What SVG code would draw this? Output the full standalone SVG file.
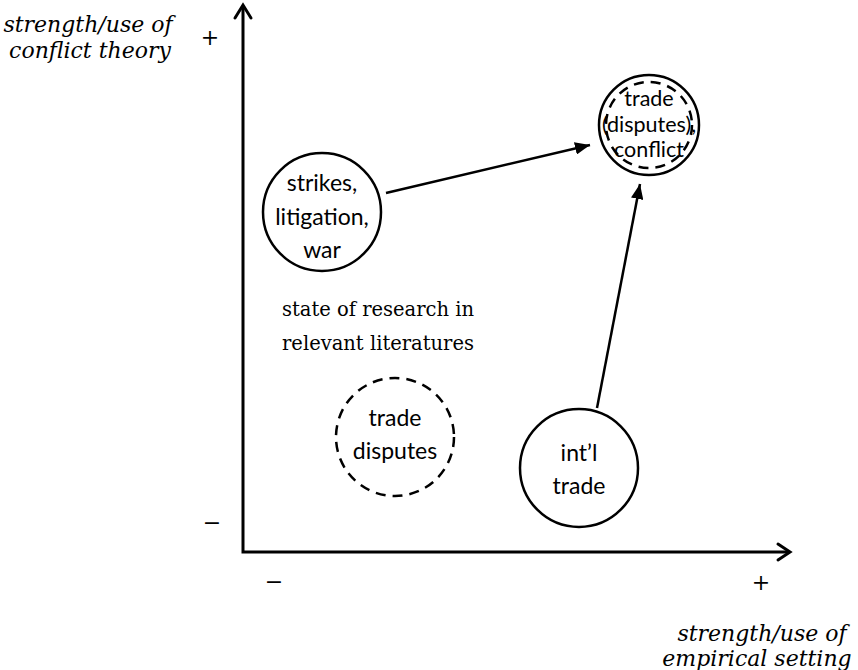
<svg xmlns="http://www.w3.org/2000/svg" width="858" height="670" viewBox="0 0 858 670">
<defs>
<style>
.ax{stroke:#000;stroke-width:3;fill:none}
.head{stroke:#000;stroke-width:3;fill:none;stroke-linecap:round;stroke-linejoin:miter}
.c{fill:#fff;stroke:#000;stroke-width:2.5}
.d{fill:none;stroke:#000;stroke-width:2.5;stroke-dasharray:10 7}
.lbl{font-family:"Lato","Open Sans","Liberation Sans",sans-serif;font-size:23px;fill:#000;text-anchor:middle}
.lbl2{font-family:"Lato","Open Sans","Liberation Sans",sans-serif;font-size:21.5px;fill:#000;text-anchor:middle}
.ser{font-family:"DejaVu Serif","Liberation Serif",serif;font-size:19.5px;fill:#000;text-anchor:middle}
.it{font-family:"DejaVu Serif","Liberation Serif",serif;font-style:italic;font-size:22px;fill:#000;text-anchor:middle}
.sym{font-family:"DejaVu Serif","Liberation Serif",serif;font-size:22px;fill:#000;text-anchor:middle}
.con{stroke:#000;stroke-width:2.5;fill:none}
</style>
<marker id="arr" viewBox="0 0 12 10" refX="12" refY="5" markerWidth="6" markerHeight="5" markerUnits="strokeWidth" orient="auto">
<path d="M0,0 L12,5 L0,10 Z" fill="#000"/>
</marker>
</defs>
<rect width="858" height="670" fill="#fff"/>
<g id="axes">
<path class="ax" d="M243,6 L243,552 L789,552"/>
<path class="head" d="M235,18 L243,5 L251,18"/>
<path class="head" d="M778,544 L790,552 L778,560"/>
<text class="it" x="88" y="32">strength/use of</text>
<text class="it" x="90" y="58">conflict theory</text>
<text class="it" x="762" y="641">strength/use of</text>
<text class="it" x="757" y="666">empirical setting</text>
<text class="sym" x="210" y="45">+</text>
<text class="sym" x="212" y="530">−</text>
<text class="sym" x="274" y="589">−</text>
<text class="sym" x="761" y="590">+</text>
</g>
<g id="caption">
<text class="ser" x="378" y="316">state of research in</text>
<text class="ser" x="378" y="350">relevant literatures</text>
</g>
<g id="connectors">
<line class="con" x1="386" y1="193" x2="590" y2="145" marker-end="url(#arr)"/>
<line class="con" x1="597" y1="408" x2="640" y2="184" marker-end="url(#arr)"/>
</g>
<g id="n-strikes">
<circle class="c" cx="322" cy="212" r="59"/>
<text class="lbl" x="322" y="191">strikes,</text>
<text class="lbl" x="322" y="225">litigation,</text>
<text class="lbl" x="322" y="258">war</text>
</g>
<g id="n-tradeconflict">
<circle class="c" cx="649" cy="125" r="50"/>
<circle class="d" cx="649" cy="125" r="43"/>
<text class="lbl2" x="649" y="106">trade</text>
<text class="lbl2" x="649" y="132">(disputes),</text>
<text class="lbl2" x="649" y="157">conflict</text>
</g>
<g id="n-disputes">
<circle class="d" cx="395" cy="437" r="59"/>
<text class="lbl" x="395" y="426">trade</text>
<text class="lbl" x="395" y="459">disputes</text>
</g>
<g id="n-intl">
<circle class="c" cx="579" cy="468" r="59"/>
<text class="lbl" x="579" y="461">int’l</text>
<text class="lbl" x="579" y="494">trade</text>
</g>
</svg>
